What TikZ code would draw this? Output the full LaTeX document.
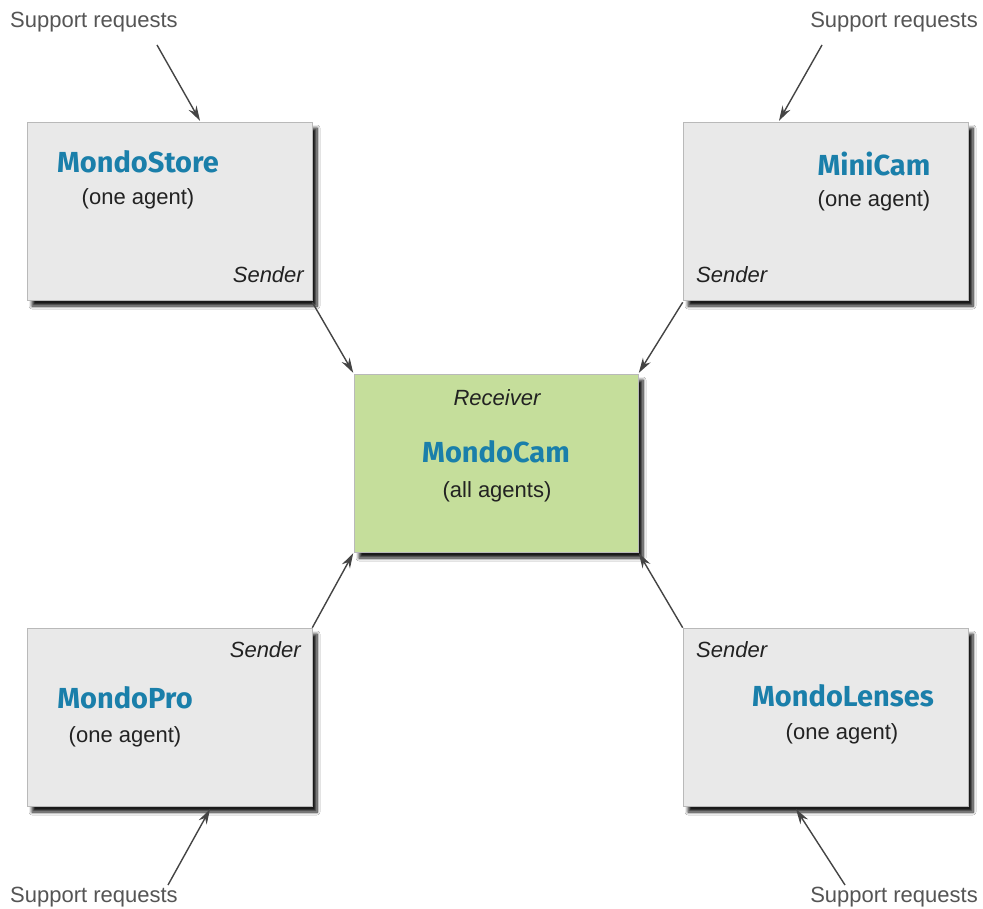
\documentclass[tikz,border=0pt]{standalone}
\usepackage{fontspec}
\setmainfont{Liberation Sans}
\newfontfamily\titlefont{Fira Sans}
\usetikzlibrary{arrows.meta,shadows.blur}
\definecolor{boxgray}{HTML}{E9E9E9}
\definecolor{boxgreen}{HTML}{C5DE9B}
\definecolor{titleblue}{HTML}{1A7FAA}
\definecolor{txt}{HTML}{222222}
\definecolor{reqtxt}{HTML}{555555}
\definecolor{arr}{HTML}{444444}
\begin{document}
\begin{tikzpicture}[x=1pt,y=-1pt,
  agentbox/.style={draw=gray!55, line width=0.6pt, fill=boxgray, minimum width=285pt, minimum height=178pt, inner sep=0pt,
    blur shadow={shadow xshift=5pt, shadow yshift=-6pt, shadow blur radius=3pt, shadow blur steps=8, shadow opacity=90}},
  title/.style={font=\titlefont\bfseries\fontsize{29}{32}\selectfont, text=titleblue, inner sep=0pt},
  sub/.style={font=\fontsize{22}{24}\selectfont, text=txt, inner sep=0pt},
  role/.style={font=\itshape\fontsize{22}{24}\selectfont, text=txt, inner sep=0pt},
  req/.style={font=\fontsize{22}{24}\selectfont, text=reqtxt, inner sep=0pt},
  flow/.style={draw=arr, line width=1.4pt, -{Stealth[length=15pt,width=9pt]}, shorten >=1pt}
]
\useasboundingbox[fill=white] (0,0) rectangle (983,909);

% boxes
\node[agentbox] (store) at (169.5,211) {};
\node[agentbox] (mini) at (825.5,211) {};
\node[agentbox] (pro) at (169.5,717) {};
\node[agentbox] (lenses) at (825.5,717) {};
\node[agentbox, fill=boxgreen, minimum width=284pt] (cam) at (496,463) {};

% texts
\node[title] (storeT) at (138,162) {MondoStore};
\node[sub] (storeS) at (138,199) {(one agent)};
\node[role, anchor=east] (storeR) at (304,275) {Sender};

\node[title] (miniT) at (874,164) {MiniCam};
\node[sub] (miniS) at (874,201) {(one agent)};
\node[role, anchor=west] (miniR) at (696,275) {Sender};

\node[role] (camR) at (497,398) {Receiver};
\node[title] (camT) at (496,452) {MondoCam};
\node[sub] (camS) at (497,492) {(all agents)};

\node[role, anchor=east] (proR) at (301,650) {Sender};
\node[title] (proT) at (125,698) {MondoPro};
\node[sub] (proS) at (125,737) {(one agent)};

\node[role, anchor=west] (lensR) at (696,650) {Sender};
\node[title] (lensT) at (843,696) {MondoLenses};
\node[sub] (lensS) at (842,734) {(one agent)};

% support request labels
\node[req, anchor=west] (reqTL) at (10,22) {Support requests};
\node[req, anchor=east] (reqTR) at (978,22) {Support requests};
\node[req, anchor=west] (reqBL) at (10,897) {Support requests};
\node[req, anchor=east] (reqBR) at (978,897) {Support requests};

\coordinate (sTL) at (157,45);
\coordinate (sTR) at (822,45);
\coordinate (sBL) at (168,885);
\coordinate (sBR) at (845,885);

\draw[flow] (sTL) -- ([xshift=31pt]store.north);
\draw[flow] (sTR) -- ([xshift=-47pt]mini.north);
\draw[flow] (sBL) -- ([xshift=41pt,yshift=-2pt]pro.south);
\draw[flow] (sBR) -- ([xshift=-30pt,yshift=-2pt]lenses.south);

\draw[flow] ([yshift=-2pt]store.south east) -- (cam.north west);
\draw[flow] ([yshift=-2pt]mini.south west) -- (cam.north east);
\draw[flow] (pro.north east) -- (cam.south west);
\draw[flow] (lenses.north west) -- (cam.south east);
\end{tikzpicture}
\end{document}
